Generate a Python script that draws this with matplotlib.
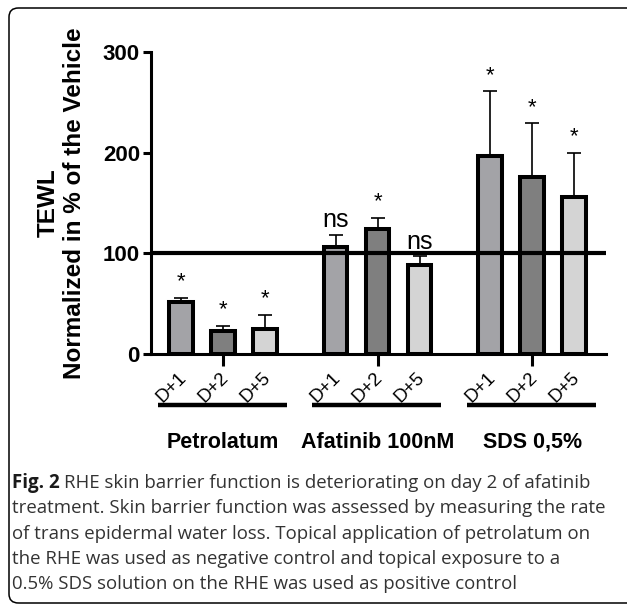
import numpy as np
import matplotlib
matplotlib.use("Agg")
import matplotlib.pyplot as plt
from matplotlib.patches import FancyBboxPatch
import matplotlib.transforms as mtransforms

# data
groups = ["Petrolatum", "Afatinib 100nM", "SDS 0,5%"]
days = ["D+1", "D+2", "D+5"]
means = [[52, 23, 25],
         [106, 124, 88],
         [197, 176, 156]]
errs = [[4, 5, 14],
        [12, 11, 9],
        [64, 53, 44]]
signif = [["*", "*", "*"],
          ["ns", "*", "ns"],
          ["*", "*", "*"]]
yticks = [0, 100, 200, 300]
caption = ["RHE skin barrier function is deteriorating on day 2 of afatinib",
           "treatment. Skin barrier function was assessed by measuring the rate",
           "of trans epidermal water loss. Topical application of petrolatum on",
           "the RHE was used as negative control and topical exposure to a",
           "0.5% SDS solution on the RHE was used as positive control"]

day_colors = ["#a3a3a7", "#7f7f7f", "#d4d4d4"]
W, H = 627, 605
group_step = 3.68

plt.rcParams['font.family'] = ['Liberation Sans', 'DejaVu Sans']
fig = plt.figure(figsize=(W / 100, H / 100), dpi=100)
ax = fig.add_axes([151 / W, 1 - 354 / H, (606 - 151) / W, (354 - 52) / H])

xpos = []
for g in range(3):
    for d in range(3):
        x = g * group_step + d
        xpos.append(x)
        ax.bar(x, means[g][d], width=0.56, color=day_colors[d], edgecolor="black",
               linewidth=2.9, zorder=2)
        ax.errorbar(x, means[g][d], yerr=[[0], [errs[g][d]]], fmt="none", ecolor="black",
                    elinewidth=1.2, capsize=4.7, capthick=1.2, zorder=1)
        top = means[g][d] + errs[g][d]
        if signif[g][d] == "*":
            ax.annotate("*", (x, top), xytext=(0, 4), textcoords="offset points",
                        ha="center", va="bottom", fontsize=16)
        else:
            ax.annotate("ns", (x, top), xytext=(0, 2), textcoords="offset points",
                        ha="center", va="bottom", fontsize=18)

ax.axhline(100, color="black", linewidth=3, zorder=3)

ax.set_xlim(-0.714, 10.12)
ax.set_ylim(0, 300)
ax.set_yticks(yticks)
ax.set_yticklabels([str(v) for v in yticks], fontsize=16, fontweight="bold")
ax.tick_params(axis="y", length=6, width=2.2, pad=2)
ax.set_xticks([g * group_step + 1 for g in range(3)])
ax.set_xticklabels([])
ax.tick_params(axis="x", length=8.6, width=2.2)
for s in ["top", "right"]:
    ax.spines[s].set_visible(False)
for s in ["left", "bottom"]:
    ax.spines[s].set_linewidth(2.2)

ax.set_ylabel("TEWL\nNormalized in % of the Vehicle", fontsize=17.5, fontweight="bold",
              linespacing=1.2, labelpad=12)

trans = mtransforms.blended_transform_factory(ax.transData, ax.transAxes)
for i, x in enumerate(xpos):
    ax.text(x - 0.08, -0.05, days[i % 3], transform=trans, rotation=45, ha="right",
            va="top", rotation_mode="anchor", fontsize=13.5)
for g in range(3):
    x0 = g * group_step
    ax.plot([x0 - 0.55, x0 + 2.52], [-0.169, -0.169], transform=trans, color="black",
            linewidth=3.2, solid_capstyle="butt", clip_on=False)
    ax.text(x0 + 1, -0.292, groups[g], transform=trans, ha="center", va="center",
            fontsize=15.5, fontweight="bold")

# border around the figure panel
box = FancyBboxPatch((9 / W, 1 - 603 / H), 1.1, 595 / H, boxstyle="round,pad=0,rounding_size=0.015",
                     transform=fig.transFigure, fill=False, edgecolor="black", linewidth=1.1,
                     clip_on=False)
fig.patches.append(box)

# caption
fig.canvas.draw()
renderer = fig.canvas.get_renderer()
y0 = 483
for i, line in enumerate(caption):
    y = 1 - (y0 + i * 25.3) / H
    x = 12 / W
    if i == 0:
        t = fig.text(x, y, "Fig. 2", fontsize=13.5, fontweight="bold", family="Open Sans",
                     color="#1a1a1a", va="center", ha="left")
        bb = t.get_window_extent(renderer)
        x = (bb.x1 + 4) / W
    fig.text(x, y, line, fontsize=13.4, family="Open Sans", color="#333333",
             va="center", ha="left")

fig.savefig("out.png", dpi=100)
